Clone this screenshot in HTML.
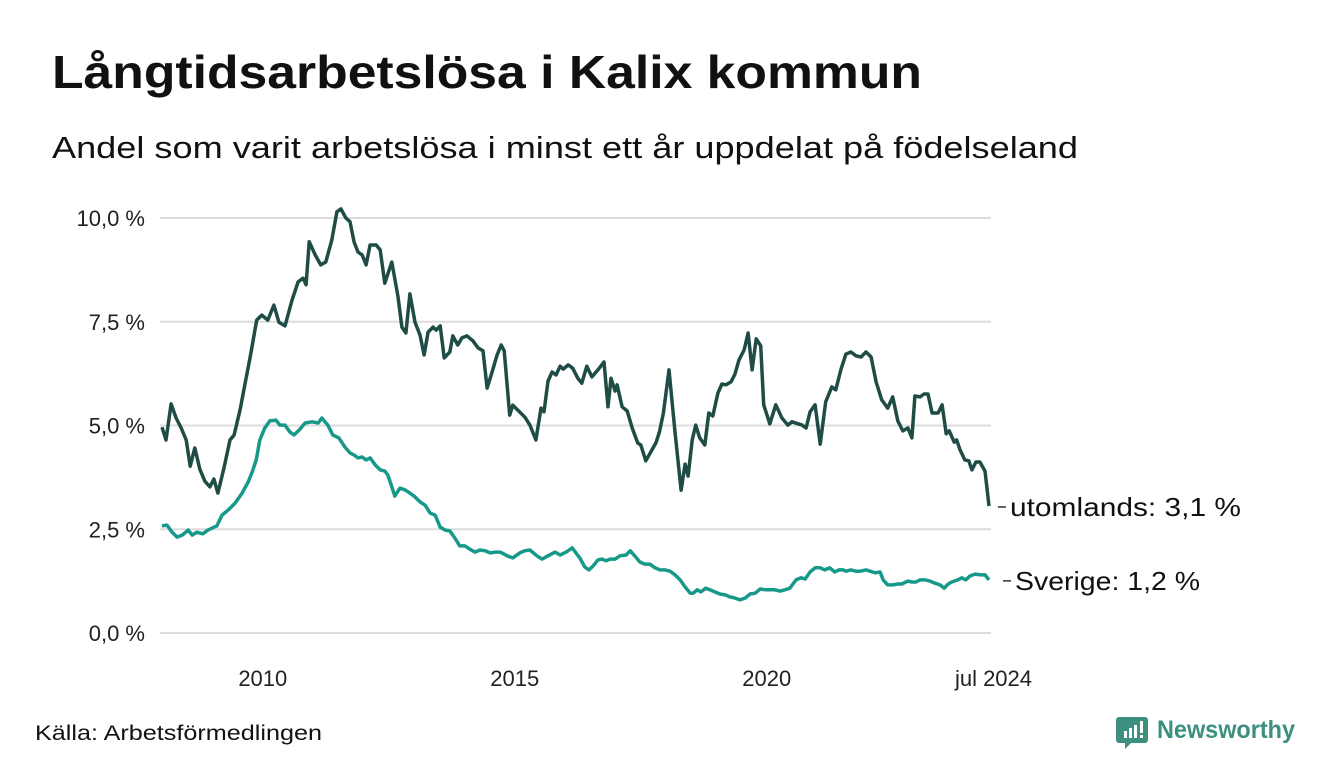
<!DOCTYPE html>
<html><head><meta charset="utf-8"><style>
html,body{margin:0;padding:0;background:#fff;width:1340px;height:780px;overflow:hidden}
svg{display:block;font-family:"Liberation Sans","DejaVu Sans",sans-serif}
</style></head><body>
<svg id="chart" width="1340" height="780" viewBox="0 0 1340 780">
<text x="52" y="88" font-size="46" font-weight="bold" fill="#111" textLength="870" lengthAdjust="spacingAndGlyphs">Långtidsarbetslösa i Kalix kommun</text>
<text x="52" y="158" font-size="31" fill="#111" textLength="1026" lengthAdjust="spacingAndGlyphs">Andel som varit arbetslösa i minst ett år uppdelat på födelseland</text>
<g id="grid"></g>
<g id="yticks"></g>
<g id="xticks"></g>
<g id="lines"></g>
<g id="labels"></g>
<text x="35" y="740" font-size="21" fill="#111" textLength="287" lengthAdjust="spacingAndGlyphs">Källa: Arbetsförmedlingen</text>
<g>
<path d="M1119 717 h26 a3 3 0 0 1 3 3 v20 a3 3 0 0 1 -3 3 h-14 l-6 6 v-6 h-6 a3 3 0 0 1 -3 -3 v-20 a3 3 0 0 1 3 -3z" fill="#3d8f7f"/>
<rect x="1124" y="731" width="3" height="7" fill="#fff"/><rect x="1129" y="728" width="3" height="10" fill="#fff"/><rect x="1134" y="725" width="3" height="13" fill="#fff"/><rect x="1140" y="721" width="3" height="12" fill="#fff"/><rect x="1140" y="735" width="3" height="3" fill="#fff"/>
<text x="1157" y="738" font-size="25" font-weight="bold" fill="#3d8f7f" textLength="138" lengthAdjust="spacingAndGlyphs">Newsworthy</text>
</g>
</svg>
<script>
const yTicks=[0,2.5,5,7.5,10];
const yTickLabels=["0,0 %","2,5 %","5,0 %","7,5 %","10,0 %"];
const xTicks=[2010,2015,2020,2024.42];
const xTickLabels=["2010","2015","2020","jul 2024"];
const seriesNames=["utomlands","Sverige"];
const endLabels=["utomlands: 3,1 %","Sverige: 1,2 %"];
const abroadDates=[2008.00,2008.08,2008.18,2008.28,2008.38,2008.48,2008.56,2008.65,2008.75,2008.85,2008.95,2009.03,2009.11,2009.23,2009.35,2009.43,2009.55,2009.65,2009.75,2009.88,2009.98,2010.10,2010.22,2010.32,2010.44,2010.58,2010.70,2010.80,2010.86,2010.92,2011.04,2011.15,2011.25,2011.37,2011.47,2011.55,2011.65,2011.73,2011.81,2011.89,2011.97,2012.05,2012.13,2012.25,2012.33,2012.42,2012.56,2012.68,2012.76,2012.84,2012.92,2013.02,2013.12,2013.20,2013.28,2013.38,2013.44,2013.52,2013.60,2013.71,2013.77,2013.87,2013.95,2014.05,2014.17,2014.27,2014.37,2014.45,2014.55,2014.65,2014.73,2014.79,2014.90,2014.96,2015.06,2015.20,2015.30,2015.42,2015.52,2015.58,2015.66,2015.74,2015.82,2015.90,2015.96,2016.06,2016.15,2016.25,2016.33,2016.43,2016.53,2016.65,2016.77,2016.85,2016.91,2016.99,2017.03,2017.13,2017.23,2017.33,2017.44,2017.50,2017.60,2017.72,2017.80,2017.87,2017.95,2018.06,2018.18,2018.30,2018.38,2018.44,2018.52,2018.59,2018.67,2018.77,2018.85,2018.93,2019.03,2019.11,2019.19,2019.29,2019.37,2019.45,2019.55,2019.63,2019.71,2019.79,2019.88,2019.94,2020.06,2020.18,2020.30,2020.42,2020.50,2020.62,2020.70,2020.78,2020.86,2020.96,2021.06,2021.17,2021.29,2021.37,2021.47,2021.57,2021.67,2021.77,2021.87,2021.97,2022.07,2022.17,2022.28,2022.40,2022.50,2022.60,2022.70,2022.80,2022.88,2022.94,2023.04,2023.12,2023.20,2023.28,2023.40,2023.48,2023.56,2023.62,2023.72,2023.77,2023.83,2023.93,2024.01,2024.07,2024.15,2024.23,2024.33,2024.41];
const abroadValues=[4.96,4.65,5.52,5.18,4.94,4.65,4.02,4.46,3.95,3.66,3.52,3.71,3.37,3.98,4.65,4.77,5.38,6.03,6.65,7.54,7.66,7.54,7.90,7.49,7.40,8.02,8.46,8.55,8.39,9.43,9.11,8.87,8.94,9.47,10.15,10.22,10.00,9.91,9.43,9.18,9.11,8.87,9.35,9.35,9.23,8.43,8.94,8.12,7.37,7.23,8.17,7.49,7.18,6.70,7.25,7.37,7.30,7.40,6.63,6.77,7.16,6.94,7.11,7.16,7.04,6.87,6.80,5.90,6.29,6.70,6.94,6.80,5.25,5.49,5.37,5.20,5.01,4.65,5.42,5.33,6.07,6.29,6.22,6.43,6.36,6.46,6.38,6.14,6.02,6.43,6.17,6.34,6.53,5.45,6.14,5.83,5.98,5.45,5.35,4.94,4.58,4.53,4.15,4.41,4.58,4.84,5.30,6.34,4.84,3.44,4.07,3.78,4.65,5.01,4.70,4.53,5.30,5.23,5.78,6.00,5.98,6.05,6.24,6.58,6.82,7.23,6.34,7.09,6.92,5.50,5.04,5.50,5.18,5.01,5.09,5.04,5.01,4.94,5.33,5.50,4.55,5.57,5.93,5.86,6.34,6.72,6.77,6.68,6.65,6.77,6.65,6.05,5.62,5.42,5.69,5.11,4.87,4.94,4.70,5.71,5.69,5.76,5.76,5.30,5.30,5.50,4.80,4.87,4.60,4.65,4.43,4.17,4.15,3.93,4.12,4.12,3.90,3.06];
const swedenDates=[2008.00,2008.10,2008.20,2008.30,2008.40,2008.52,2008.60,2008.69,2008.81,2008.91,2009.03,2009.09,2009.19,2009.31,2009.45,2009.59,2009.71,2009.79,2009.87,2009.94,2010.04,2010.14,2010.26,2010.34,2010.44,2010.54,2010.62,2010.72,2010.84,2010.98,2011.10,2011.17,2011.29,2011.39,2011.51,2011.63,2011.73,2011.81,2011.89,2011.97,2012.05,2012.13,2012.23,2012.33,2012.42,2012.48,2012.58,2012.62,2012.72,2012.82,2012.92,2013.02,2013.12,2013.22,2013.32,2013.42,2013.52,2013.62,2013.71,2013.81,2013.91,2014.01,2014.11,2014.21,2014.31,2014.41,2014.51,2014.61,2014.71,2014.85,2014.96,2015.10,2015.20,2015.30,2015.44,2015.54,2015.66,2015.80,2015.90,2016.02,2016.14,2016.23,2016.29,2016.39,2016.47,2016.55,2016.65,2016.73,2016.81,2016.89,2016.99,2017.09,2017.21,2017.29,2017.38,2017.48,2017.58,2017.68,2017.78,2017.88,2017.98,2018.08,2018.18,2018.28,2018.38,2018.48,2018.54,2018.62,2018.69,2018.79,2018.87,2018.97,2019.07,2019.17,2019.27,2019.37,2019.47,2019.57,2019.67,2019.77,2019.87,2019.98,2020.06,2020.16,2020.26,2020.36,2020.46,2020.58,2020.68,2020.76,2020.86,2020.96,2021.06,2021.15,2021.25,2021.35,2021.43,2021.51,2021.57,2021.67,2021.77,2021.85,2021.97,2022.05,2022.15,2022.25,2022.31,2022.40,2022.50,2022.60,2022.68,2022.80,2022.88,2022.96,2023.04,2023.14,2023.24,2023.34,2023.44,2023.52,2023.60,2023.67,2023.79,2023.87,2023.95,2024.03,2024.13,2024.25,2024.33,2024.41];
const swedenValues=[2.58,2.60,2.43,2.31,2.36,2.48,2.36,2.43,2.39,2.48,2.55,2.58,2.84,2.96,3.13,3.37,3.64,3.88,4.17,4.65,4.94,5.11,5.13,5.01,5.01,4.84,4.77,4.89,5.06,5.09,5.06,5.18,5.01,4.77,4.70,4.48,4.34,4.29,4.22,4.24,4.17,4.22,4.05,3.93,3.90,3.81,3.45,3.30,3.49,3.45,3.37,3.28,3.16,3.08,2.89,2.84,2.55,2.48,2.46,2.29,2.10,2.10,2.02,1.95,2.00,1.98,1.93,1.95,1.95,1.86,1.81,1.93,1.98,2.00,1.86,1.78,1.86,1.95,1.88,1.95,2.05,1.90,1.81,1.59,1.52,1.61,1.76,1.78,1.74,1.78,1.78,1.86,1.88,1.98,1.86,1.71,1.66,1.66,1.57,1.52,1.52,1.49,1.40,1.28,1.11,0.96,0.96,1.04,0.99,1.08,1.04,0.99,0.94,0.92,0.87,0.84,0.80,0.84,0.94,0.96,1.06,1.04,1.04,1.04,1.01,1.04,1.08,1.28,1.33,1.30,1.47,1.57,1.57,1.52,1.57,1.47,1.52,1.52,1.49,1.52,1.49,1.49,1.52,1.49,1.45,1.47,1.28,1.16,1.16,1.18,1.18,1.25,1.23,1.23,1.28,1.28,1.25,1.20,1.16,1.08,1.18,1.23,1.28,1.33,1.28,1.37,1.42,1.40,1.40,1.28];

const NS="http://www.w3.org/2000/svg";
const X0=162,X1=989,T0=2008,T1=2024.41,Y0=633,Y1=218,V0=0,V1=10;
function xs(t){return X0+(t-T0)/(T1-T0)*(X1-X0);}
function ys(v){return Y0+(v-V0)/(V1-V0)*(Y1-Y0);}
function mk(tag,attrs,parent){const e=document.createElementNS(NS,tag);for(const k in attrs)e.setAttribute(k,attrs[k]);parent.appendChild(e);return e;}
const grid=document.getElementById('grid'),yt=document.getElementById('yticks'),xt=document.getElementById('xticks'),ln=document.getElementById('lines'),lb=document.getElementById('labels');
yTicks.forEach((v,i)=>{
  const g=mk('line',{x1:160,x2:991,y1:ys(v),y2:ys(v),stroke:'#dcdcdc','stroke-width':2},grid);
  
  
  const t=mk('text',{x:145,y:ys(v)+8,'text-anchor':'end','font-size':22,fill:'#222'},yt);
  t.textContent=yTickLabels[i];
  
  
});
xTicks.forEach((v,i)=>{
  const t=mk('text',{x:xs(v)+(i==3?4:0),y:686,'text-anchor':'middle','font-size':22,fill:'#222'},xt);
  t.textContent=xTickLabels[i];
  
  
});
function path(d,v){return d.map((t,i)=>(i?'L':'M')+xs(t).toFixed(1)+' '+ys(v[i]).toFixed(1)).join(' ');}
const p1=mk('path',{d:path(swedenDates,swedenValues),fill:'none',stroke:'#17998a','stroke-width':3.5,'stroke-linejoin':'round'},ln);


const p2=mk('path',{d:path(abroadDates,abroadValues),fill:'none',stroke:'#1f4d46','stroke-width':3.5,'stroke-linejoin':'round'},ln);


const labelX=[1010,1015],labelW=[231,185];
[[abroadDates,abroadValues],[swedenDates,swedenValues]].forEach((s,i)=>{
  const last=s[1][s[1].length-1];const y=ys(last);
  mk('line',{x1:labelX[i]-12,x2:labelX[i]-4,y1:y+1,y2:y+1,stroke:'#333','stroke-width':1.5},lb);
  const t=mk('text',{x:labelX[i],y:y+10,'font-size':26,fill:'#111',textLength:labelW[i],lengthAdjust:'spacingAndGlyphs'},lb);
  t.textContent=endLabels[i];
  
  
});
</script>
</body></html>
